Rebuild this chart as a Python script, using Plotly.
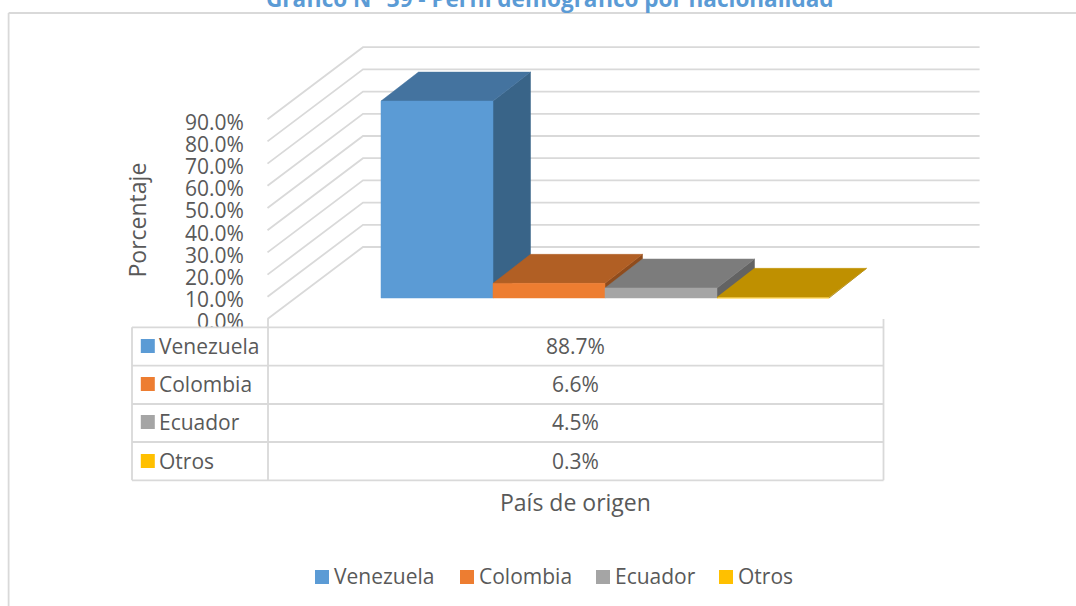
import plotly.graph_objects as go

# ---- data ----
categories = ["Venezuela", "Colombia", "Ecuador", "Otros"]
values = [88.7, 6.6, 4.5, 0.3]
y_ticks = [0, 10, 20, 30, 40, 50, 60, 70, 80, 90]
y_tick_labels = ["0.0%", "10.0%", "20.0%", "30.0%", "40.0%", "50.0%", "60.0%", "70.0%", "80.0%", "90.0%"]
title_text = "Gráfico N° 39 - Perfil demográfico por nacionalidad"
y_title = "Porcentaje"
x_title = "País de origen"

# ---- style ----
front_cols = ["#5B9BD5", "#ED7D31", "#A5A5A5", "#FFC000"]
top_cols = ["#44739F", "#B15F24", "#7C7C7C", "#BF9000"]
side_cols = ["#396488", "#8F4C1D", "#636363", "#9C7600"]
GRID = "#D9D9D9"
TXT = "#595959"
FONT = "Open Sans"
W, H = 1076, 606
L = 250                # plot area left edge, px
SLOT = 112.0           # px per bar slot
X0 = 381.0             # px of first bar's left side
PX_PER_PCT = 2.22
Y0 = 319.0             # px of 0% on the front edge


def xp(px):
    return (px - L) / (W - L)


def yp(py):
    return 1 - py / H


x_range = [(L - X0) / SLOT, (W - X0) / SLOT]
y_range = [(Y0 - H) / PX_PER_PCT, Y0 / PX_PER_PCT]

# depth offsets in axis units
FLOOR_DX = 95.5 / SLOT
FLOOR_DY = 72 / PX_PER_PCT
BAR_DX = 37.5 / SLOT
BAR_DY = 29 / PX_PER_PCT
BASE_Y = 21 / PX_PER_PCT     # bars stand this far into the floor
FRONT_X = (267.5 - X0) / SLOT
BACK_END_X = (979.6 - X0) / SLOT

fig = go.Figure()

# gridlines (side wall + back wall) from the axis ticks
gx, gy = [], []
for t in y_ticks:
    gx += [FRONT_X, FRONT_X + FLOOR_DX, BACK_END_X, None]
    gy += [t, t + FLOOR_DY, t + FLOOR_DY, None]
fig.add_trace(go.Scatter(x=gx, y=gy, mode="lines", line=dict(color=GRID, width=1.8),
                         showlegend=False, hoverinfo="skip"))


def poly(xs, ys, col, name):
    fig.add_trace(go.Scatter(x=xs, y=ys, mode="lines", fill="toself", fillcolor=col,
                             line=dict(color=col, width=0.5), name=name, showlegend=False,
                             hoverinfo="skip"))


for i, (c, v) in enumerate(zip(categories, values)):
    x1, x2 = i, i + 1
    y1, y2 = BASE_Y, BASE_Y + v
    poly([x2, x2 + BAR_DX, x2 + BAR_DX, x2, x2],
         [y1, y1 + BAR_DY, y2 + BAR_DY, y2, y1], side_cols[i], c)
    poly([x1, x2, x2 + BAR_DX, x1 + BAR_DX, x1],
         [y2, y2, y2 + BAR_DY, y2 + BAR_DY, y2], top_cols[i], c)
    poly([x1, x2, x2, x1, x1], [y1, y1, y2, y2, y1], front_cols[i], c)

shapes = []


def line(x0, y0, x1, y1, width=1.8):
    shapes.append(dict(type="line", xref="paper", yref="paper", layer="above",
                       x0=xp(x0), x1=xp(x1), y0=yp(y0), y1=yp(y1),
                       line=dict(color=GRID, width=width)))


def square(x0, y0, col, size=14):
    shapes.append(dict(type="rect", xref="paper", yref="paper", layer="above",
                       x0=xp(x0), x1=xp(x0 + size), y0=yp(y0), y1=yp(y0 + size),
                       fillcolor=col, line=dict(width=0)))


# white table background hides the foot of the 0.0% label
shapes.append(dict(type="rect", xref="paper", yref="paper", layer="above",
                   x0=xp(132), x1=xp(883.5), y0=yp(327.3), y1=yp(480.3),
                   fillcolor="white", line=dict(width=0)))

# frame
line(8.6, 13, W, 13)
line(8.6, 13, 8.6, H)

# data table
row_y = [327.3, 365.7, 404, 442, 480.3]
for y in row_y:
    line(132, y, 883.5, y)
line(132, row_y[0], 132, row_y[-1])
line(268, 319, 268, row_y[-1])
line(883.5, 319, 883.5, row_y[-1])

ann = []


def text(px, py, s, size=21, anchor="left", color=TXT, angle=0, bold=False):
    ann.append(dict(x=xp(px), y=yp(py), xref="paper", yref="paper", text=f"<b>{s}</b>" if bold else s,
                    showarrow=False, xanchor=anchor, yanchor="middle", textangle=angle,
                    font=dict(family=FONT, size=size, color=color)))


key_y = [339, 377, 415, 454]
for i, c in enumerate(categories):
    square(140.8, key_y[i], front_cols[i])
    text(157, key_y[i] + 7, c)
    text(575.5, key_y[i] + 7, f"{values[i]:.1f}%", anchor="center")

leg_x = [315, 460, 596, 719]
for i, c in enumerate(categories):
    square(leg_x[i], 570, front_cols[i])
    text(leg_x[i] + 17, 576, c)

text(575.5, 502, x_title, size=23, anchor="center")
text(136.5, 220, y_title, size=23, anchor="center", angle=-90)
text(550, -2, title_text, size=22.5, anchor="center", color="#5B9BD5", bold=True)

fig.update_layout(
    width=W, height=H, margin=dict(l=L, r=0, t=0, b=0),
    paper_bgcolor="white", plot_bgcolor="white", showlegend=False,
    shapes=shapes, annotations=ann,
    xaxis=dict(range=x_range, visible=False, fixedrange=True),
    yaxis=dict(range=y_range, tickvals=y_ticks, ticktext=y_tick_labels, showgrid=False,
               zeroline=False, showline=False, ticks="outside", ticklen=1,
               ticklabelshift=3,
               tickcolor="rgba(0,0,0,0)", tickfont=dict(family=FONT, size=21, color=TXT),
               fixedrange=True),
)
fig.write_html("out.html", config=dict(displayModeBar=False),
               post_script="document.body.style.margin='0';")
